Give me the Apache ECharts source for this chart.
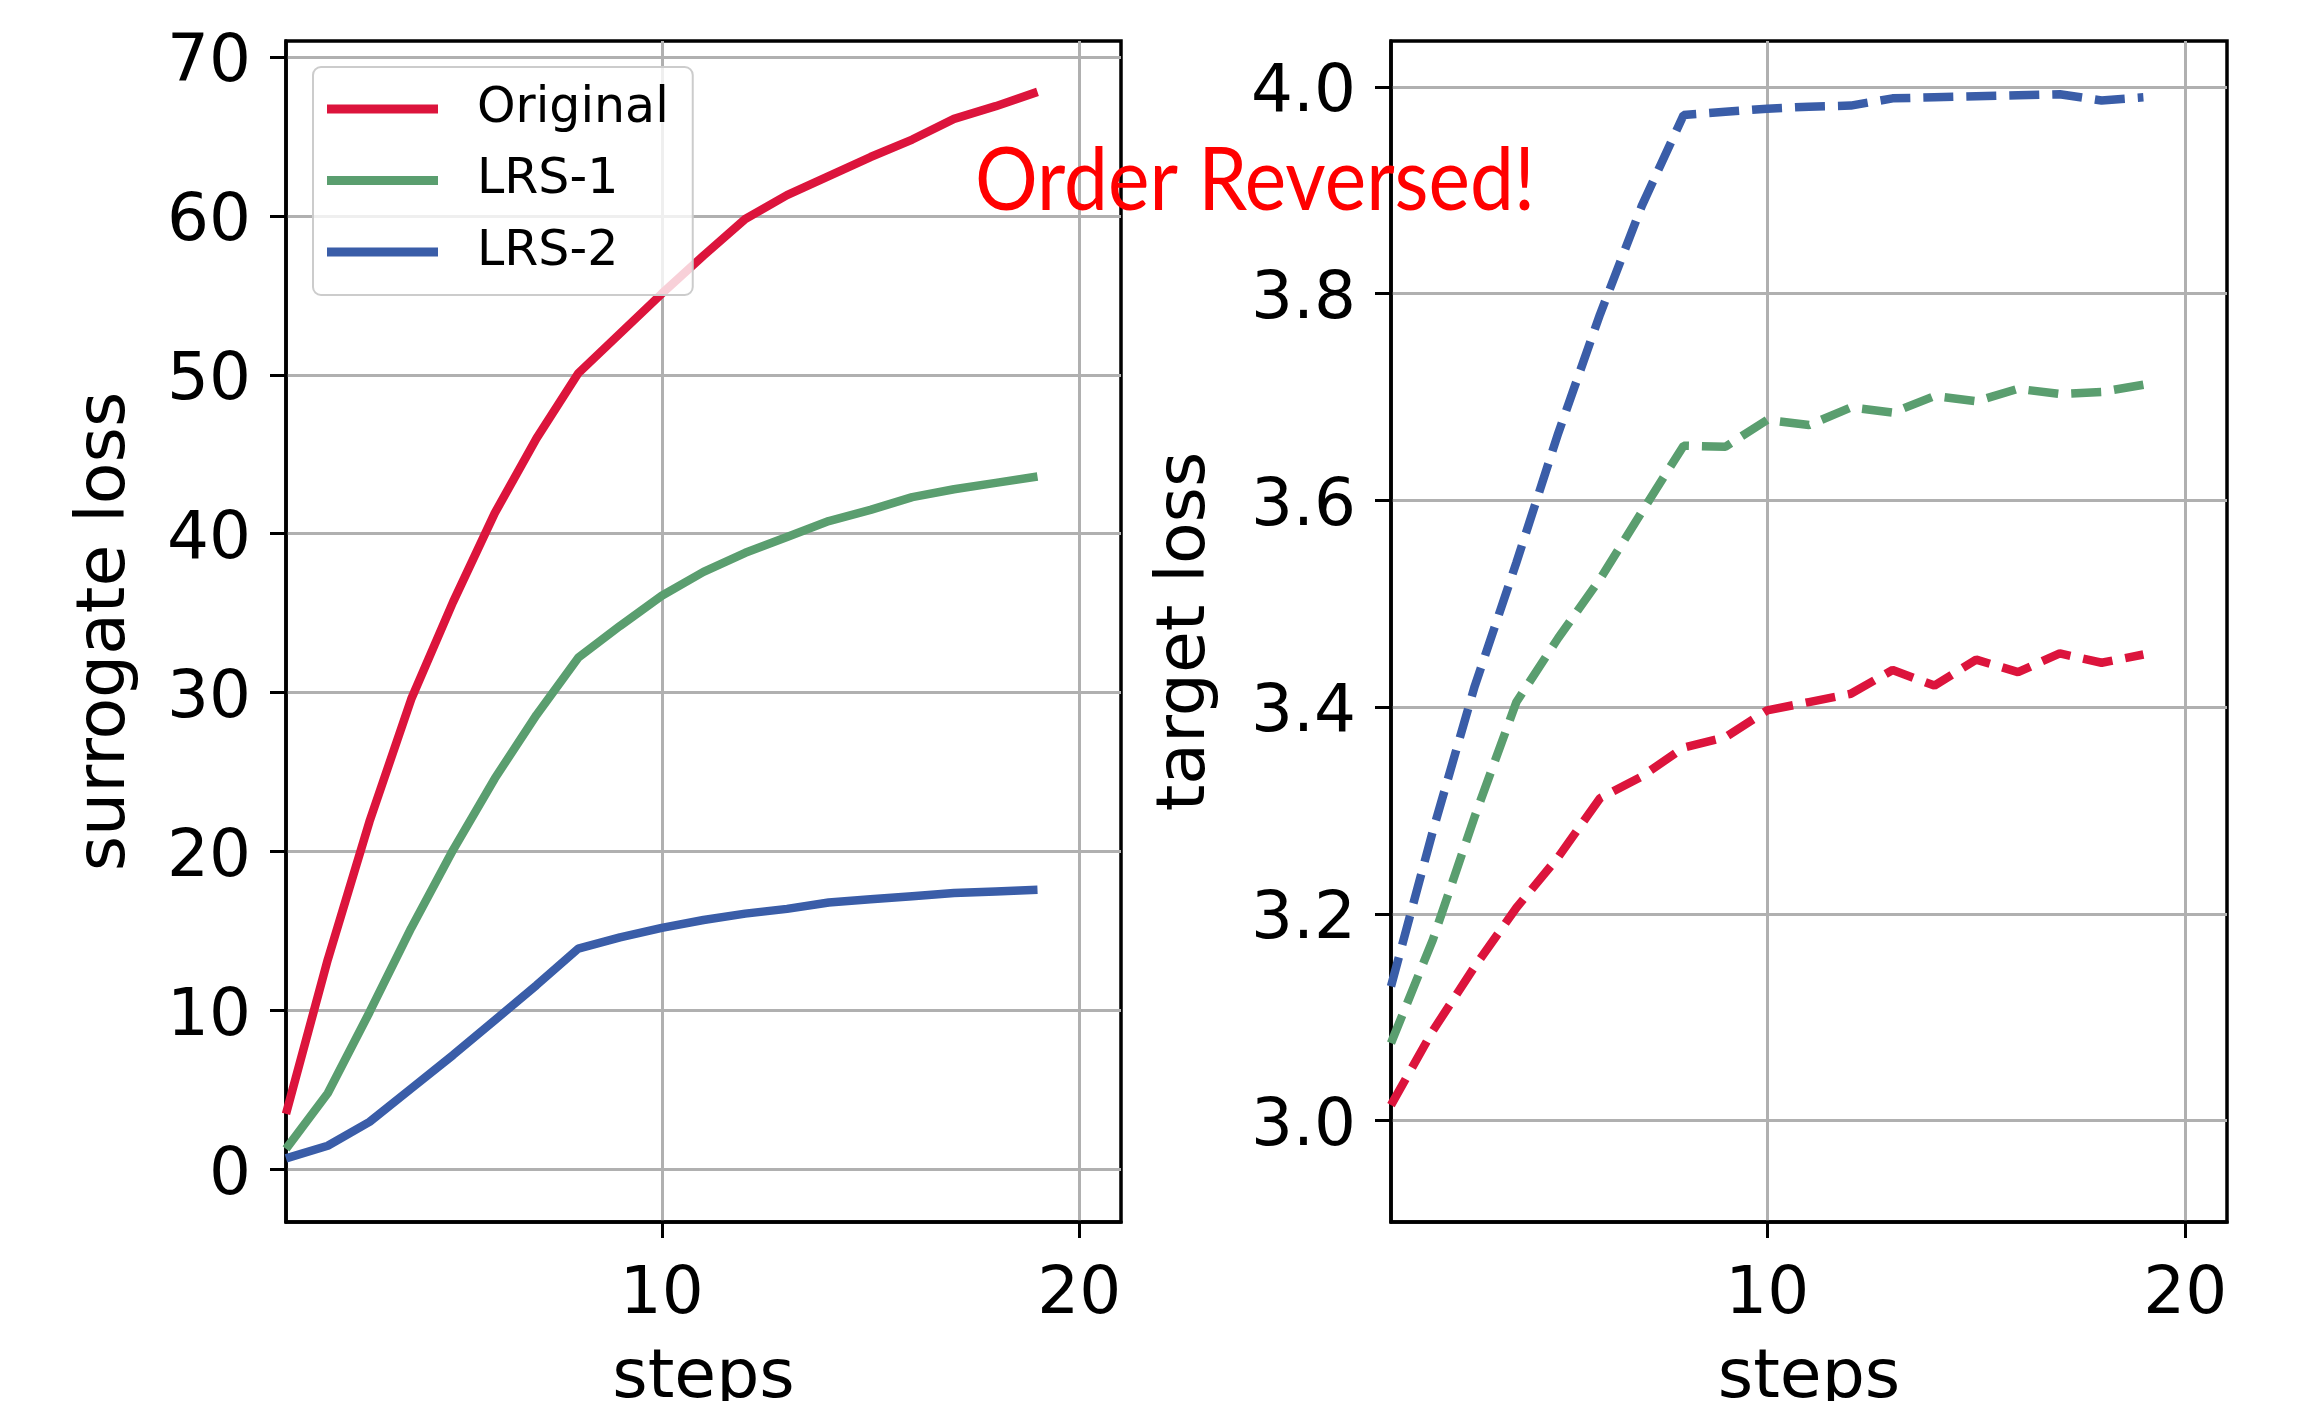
<!DOCTYPE html>
<html>
<head>
<meta charset="utf-8">
<script src="https://cdn.jsdelivr.net/npm/echarts@6/dist/echarts.min.js"></script>
<style>
  html, body { margin: 0; padding: 0; background: #fff; }
  #chart { width: 2305px; height: 1401px; }
</style>
</head>
<body>
<div id="chart"></div>
<script>
// step index shared by both panels
const steps = [1, 2, 3, 4, 5, 6, 7, 8, 9, 10, 11, 12, 13, 14, 15, 16, 17, 18, 19]

// left panel: surrogate loss
const surrogateOriginal = [3.5, 13.2, 21.9, 29.6, 35.7, 41.3, 46.0, 50.1, 52.6, 55.1, 57.5, 59.8, 61.3, 62.5, 63.7, 64.8, 66.1, 66.9, 67.8]
const surrogateLrs1 = [1.3, 4.8, 9.9, 15.2, 20.1, 24.6, 28.6, 32.2, 34.2, 36.1, 37.6, 38.8, 39.8, 40.8, 41.5, 42.3, 42.8, 43.2, 43.6]
const surrogateLrs2 = [0.7, 1.5, 3.0, 5.1, 7.2, 9.4, 11.6, 13.9, 14.6, 15.2, 15.7, 16.1, 16.4, 16.8, 17.0, 17.2, 17.4, 17.5, 17.6]

// right panel: target loss
const targetOriginal = [3.015, 3.087, 3.149, 3.206, 3.255, 3.312, 3.333, 3.361, 3.371, 3.397, 3.405, 3.413, 3.436, 3.421, 3.446, 3.434, 3.452, 3.443, 3.451]
const targetLrs1 = [3.075, 3.175, 3.294, 3.405, 3.467, 3.524, 3.589, 3.653, 3.652, 3.678, 3.673, 3.690, 3.685, 3.701, 3.696, 3.708, 3.703, 3.705, 3.712]
const targetLrs2 = [3.13, 3.28, 3.42, 3.54, 3.665, 3.78, 3.885, 3.973, 3.976, 3.979, 3.981, 3.982, 3.989, 3.990, 3.991, 3.992, 3.993, 3.987, 3.990]

const seriesNames = ['Original', 'LRS-1', 'LRS-2']
const xTicks = [10, 20]
const surrogateTicks = [0, 10, 20, 30, 40, 50, 60, 70]
const targetTicks = [3.0, 3.2, 3.4, 3.6, 3.8, 4.0]
const note = 'Order Reversed!'

const colors = ['#dc143c', '#5a9e6f', '#3a5da8']
const FONT = 'DejaVu Sans'

const chart = echarts.init(document.getElementById('chart'))

function pairs(values) {
  return values.map((v, i) => [steps[i], v])
}

function xAxis(gridIndex) {
  return {
    type: 'value',
    gridIndex,
    min: 1,
    max: 21,
    name: 'steps',
    nameLocation: 'middle',
    nameGap: 123,
    nameTextStyle: { color: '#000', fontFamily: FONT, fontSize: 68 },
    axisLine: { show: true, onZero: false, lineStyle: { color: '#000', width: 3.5 } },
    axisTick: { show: true, length: 16, customValues: xTicks, lineStyle: { color: '#000', width: 3 } },
    axisLabel: { customValues: xTicks, margin: 41, color: '#000', fontFamily: FONT, fontSize: 66 },
    splitLine: { show: true, lineStyle: { color: '#b0b0b0', width: 3 } },
  }
}

// y tick labels sit a little below their tick, as in the source figure
const yLabelRich = {
  pad: { lineHeight: 80, fontSize: 10 },
  num: { lineHeight: 66, fontSize: 66, fontFamily: FONT, color: '#000', verticalAlign: 'bottom' },
}

function yAxis(gridIndex, name, min, max, ticks, gap, fmt) {
  return {
    type: 'value',
    gridIndex,
    min,
    max,
    name,
    nameLocation: 'middle',
    nameGap: gap,
    nameTextStyle: { color: '#000', fontFamily: FONT, fontSize: 68 },
    axisLine: { show: true, onZero: false, lineStyle: { color: '#000', width: 3.5 } },
    axisTick: { show: true, length: 16, customValues: ticks, lineStyle: { color: '#000', width: 3 } },
    axisLabel: {
      customValues: ticks, margin: 35, color: '#000', fontFamily: FONT, fontSize: 66,
      formatter: (v) => '{pad|\u200b}{num|' + fmt(v) + '}',
      rich: yLabelRich,
    },
    splitLine: { show: true, lineStyle: { color: '#b0b0b0', width: 3 } },
  }
}

function line(name, values, idx, color, dashed) {
  return {
    name,
    type: 'line',
    xAxisIndex: idx,
    yAxisIndex: idx,
    data: pairs(values),
    showSymbol: false,
    symbol: 'none',
    animation: false,
    color,
    lineStyle: { color, width: 8.5, type: dashed ? [30, 13] : 'solid', cap: 'butt' },
  }
}

const ctx = document.createElement('canvas').getContext('2d')
ctx.font = '88px Lato'
const noteScale = 560 / ctx.measureText(note).width

chart.setOption({
  backgroundColor: '#fff',
  animation: false,
  grid: [
    { left: 286, top: 41, width: 835, height: 1181, show: true, borderColor: '#000', borderWidth: 3.5, outerBoundsMode: 'none', containLabel: false },
    { left: 1391, top: 41, width: 836, height: 1181, show: true, borderColor: '#000', borderWidth: 3.5, outerBoundsMode: 'none', containLabel: false },
  ],
  legend: {
    data: seriesNames,
    orient: 'vertical',
    left: 313,
    top: 67,
    padding: [17, 24, 18, 14],
    itemGap: 21.5,
    itemWidth: 111,
    itemHeight: 9,
    icon: 'rect',
    backgroundColor: 'rgba(255,255,255,0.8)',
    borderColor: '#cccccc',
    borderWidth: 2,
    borderRadius: 8,
    textStyle: { color: '#000', fontFamily: FONT, fontSize: 49, lineHeight: 50, padding: [0, 0, 0, 34] },
  },
  xAxis: [xAxis(0), xAxis(1)],
  yAxis: [
    yAxis(0, 'surrogate loss', -3.3, 71.0, surrogateTicks, 146, (v) => String(v)),
    yAxis(1, 'target loss', 2.902, 4.0445, targetTicks, 171, (v) => v.toFixed(1)),
  ],
  series: [
    line(seriesNames[0], surrogateOriginal, 0, colors[0], false),
    line(seriesNames[1], surrogateLrs1, 0, colors[1], false),
    line(seriesNames[2], surrogateLrs2, 0, colors[2], false),
    line(seriesNames[0], targetOriginal, 1, colors[0], true),
    line(seriesNames[1], targetLrs1, 1, colors[1], true),
    line(seriesNames[2], targetLrs2, 1, colors[2], true),
  ],
  graphic: [
    {
      type: 'text',
      x: 975,
      y: 182,
      scaleX: noteScale,
      z: 100,
      silent: true,
      style: { text: note, fill: '#ff0000', fontSize: 88, fontFamily: 'Lato', verticalAlign: 'middle', align: 'left' },
    },
  ],
})
</script>
</body>
</html>
